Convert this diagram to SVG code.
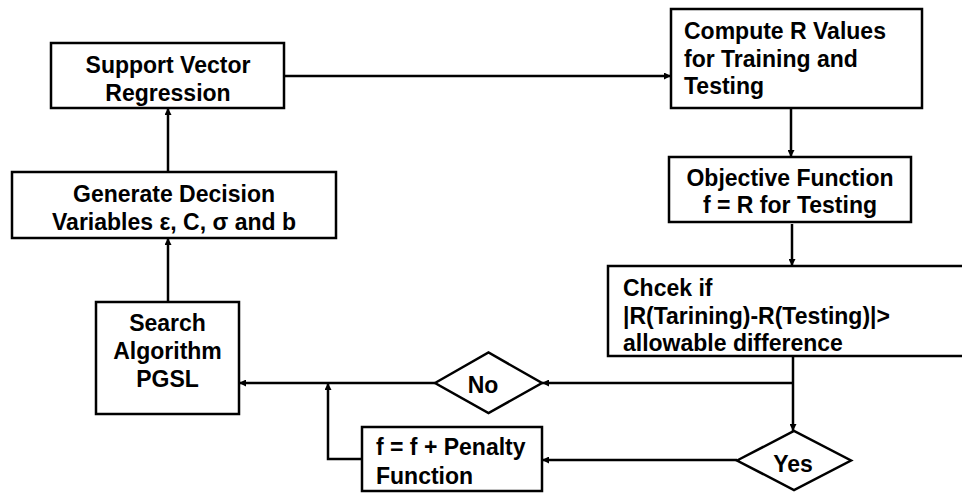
<svg xmlns="http://www.w3.org/2000/svg" width="962" height="493" viewBox="0 0 962 493">
<style>
.box{fill:#fff;stroke:#000;stroke-width:2.5}
.t{font-family:"Liberation Sans",Arial,sans-serif;font-weight:bold;font-size:23px;fill:#000}
.c{text-anchor:middle}
.ln{fill:none;stroke:#000;stroke-width:2.5}
</style>
<defs>
<marker id="ah" viewBox="0 0 10 10" refX="10" refY="5" markerWidth="7" markerHeight="7" markerUnits="userSpaceOnUse" orient="auto">
<path d="M0,0 L10,5 L0,10 z" fill="#000"/>
</marker>
</defs>
<rect width="962" height="493" fill="#fff"/>
<g id="connectors">
<line class="ln" x1="284" y1="76" x2="671" y2="76" marker-end="url(#ah)"/>
<line class="ln" x1="791" y1="108" x2="791" y2="157" marker-end="url(#ah)"/>
<line class="ln" x1="792" y1="224" x2="792" y2="266" marker-end="url(#ah)"/>
<line class="ln" x1="793" y1="356" x2="793" y2="431" marker-end="url(#ah)"/>
<line class="ln" x1="793" y1="383" x2="542" y2="383" marker-end="url(#ah)"/>
<line class="ln" x1="435" y1="383" x2="239" y2="383" marker-end="url(#ah)"/>
<line class="ln" x1="737" y1="460" x2="542" y2="460" marker-end="url(#ah)"/>
<polyline class="ln" points="362,459 328,459 328,383" marker-end="url(#ah)"/>
<line class="ln" x1="168" y1="302" x2="168" y2="238" marker-end="url(#ah)"/>
<line class="ln" x1="168" y1="172" x2="168" y2="108" marker-end="url(#ah)"/>
</g>
<g id="svr">
<rect class="box" x="51" y="43" width="233" height="65"/>
<text class="t c" x="168" y="73">Support Vector</text>
<text class="t c" x="168" y="101">Regression</text>
</g>
<g id="generate">
<rect class="box" x="12" y="172" width="324" height="66"/>
<text class="t c" x="174" y="202">Generate Decision</text>
<text class="t c" x="174" y="230">Variables ε, C, σ and b</text>
</g>
<g id="search">
<rect class="box" x="96" y="302" width="143" height="112"/>
<text class="t c" x="167.5" y="331">Search</text>
<text class="t c" x="167.5" y="359">Algorithm</text>
<text class="t c" x="167.5" y="387">PGSL</text>
</g>
<g id="compute">
<rect class="box" x="671" y="9" width="251" height="99"/>
<text class="t" x="684" y="39">Compute R Values</text>
<text class="t" x="684" y="66.5">for Training and</text>
<text class="t" x="684" y="94">Testing</text>
</g>
<g id="objective">
<rect class="box" x="669" y="157" width="242" height="65"/>
<text class="t c" x="790" y="186">Objective Function</text>
<text class="t c" x="790" y="213">f = R for Testing</text>
</g>
<g id="check">
<rect class="box" x="608" y="266" width="370" height="90"/>
<text class="t" x="623" y="296">Chcek if</text>
<text class="t" x="623" y="324">|R(Tarining)-R(Testing)|&gt;</text>
<text class="t" x="623" y="351">allowable difference</text>
</g>
<g id="no">
<polygon class="box" points="435,383 488.5,352.5 542,383 488.5,413"/>
<text class="t c" x="483" y="393">No</text>
</g>
<g id="yes">
<polygon class="box" points="737,460.5 794,431 851,460.5 794,490"/>
<text class="t c" x="793" y="472">Yes</text>
</g>
<g id="penalty">
<rect class="box" x="362" y="427" width="180" height="64"/>
<text class="t" x="376" y="455">f = f + Penalty</text>
<text class="t" x="376" y="483.5">Function</text>
</g>
</svg>
